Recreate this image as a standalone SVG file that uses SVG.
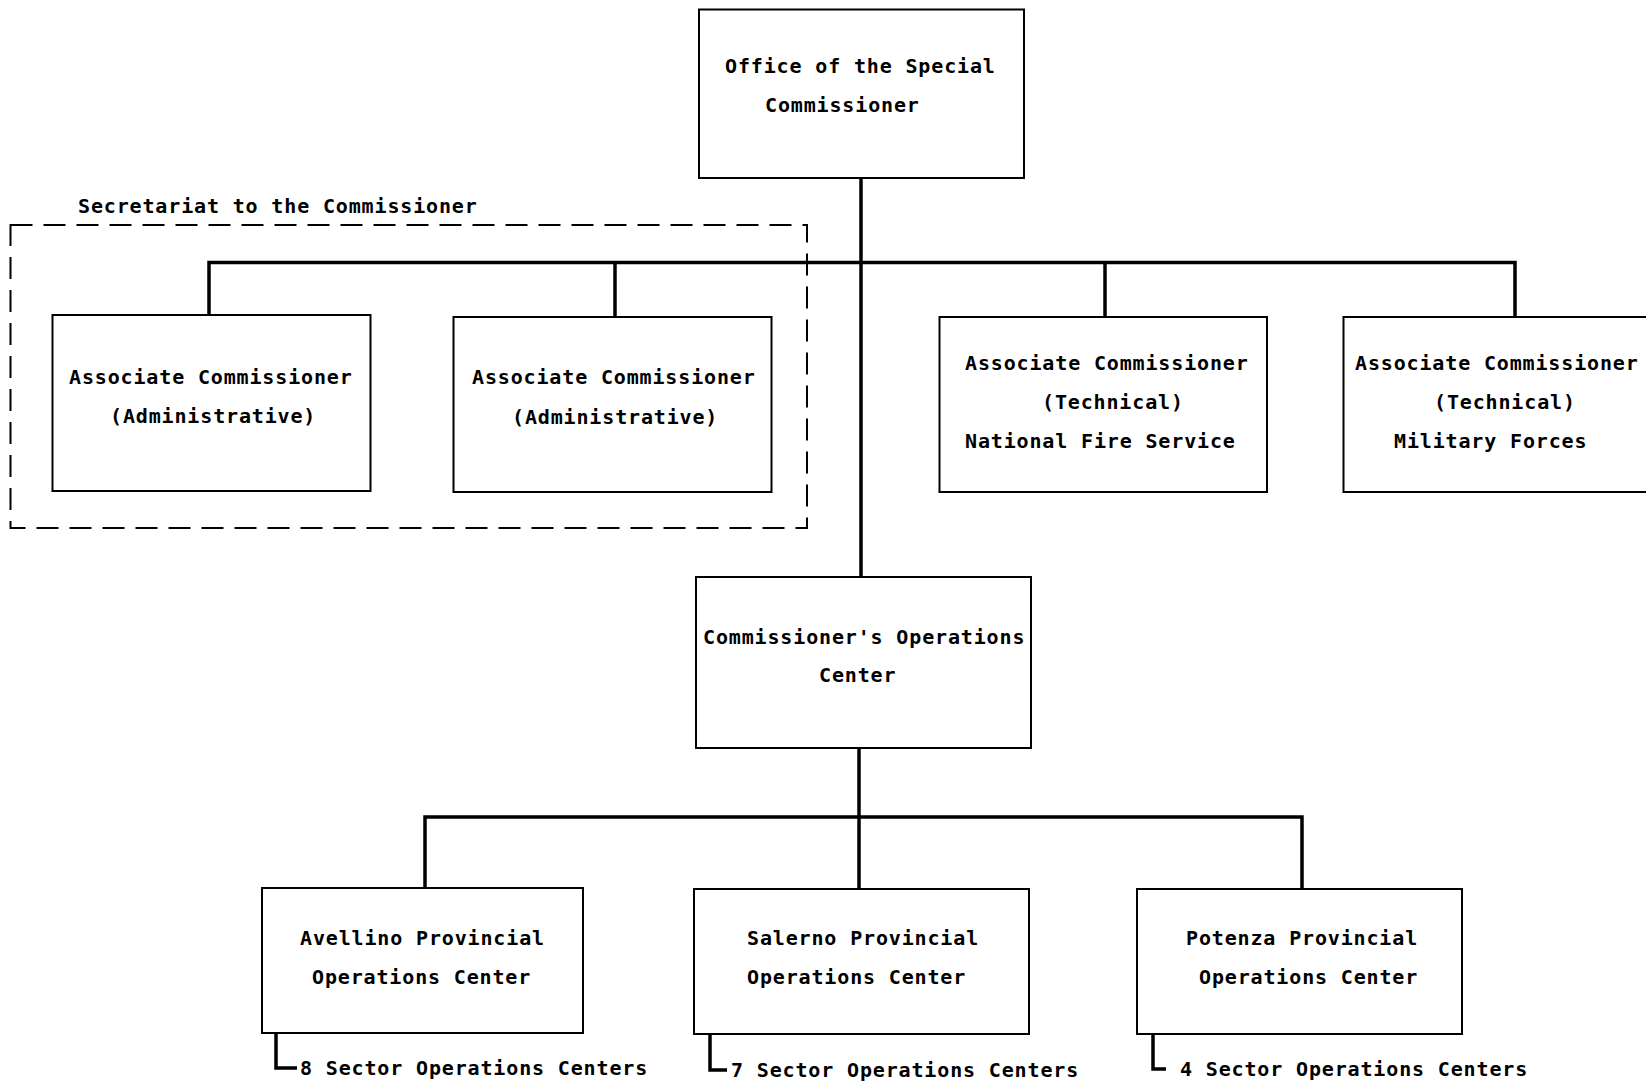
<svg xmlns="http://www.w3.org/2000/svg" width="1646" height="1084" viewBox="0 0 1646 1084">
<style>
.box{fill:#fff;stroke:#000;stroke-width:2}
.t{font-family:"DejaVu Sans Mono","Liberation Mono",monospace;font-weight:bold;font-size:20px;letter-spacing:0.85px;fill:#000}
.c{fill:none;stroke:#000;stroke-width:3.5}
.d{fill:none;stroke:#000;stroke-width:2;stroke-dasharray:22 11}
</style>
<rect width="1646" height="1084" fill="#fff"/>
<g id="connectors">
<path class="c" d="M861 178V577"/>
<path class="c" d="M209 315V262.5H1515V317"/>
<path class="c" d="M615 262.5V317"/>
<path class="c" d="M1105 262.5V317"/>
<path class="c" d="M859 748V889"/>
<path class="c" d="M425 888V817H1302V889"/>
<path class="c" d="M276 1033V1068H297"/>
<path class="c" d="M710 1034V1070H727"/>
<path class="c" d="M1153 1034V1069H1166"/>
</g>
<g id="secretariat">
<rect class="d" x="10.5" y="225" width="796.5" height="303"/>
<text class="t" x="78" y="213">Secretariat to the Commissioner</text>
</g>
<g id="office">
<rect class="box" x="699" y="9.5" width="325" height="168.5"/>
<text class="t" x="725" y="73">Office of the Special</text>
<text class="t" x="765" y="112">Commissioner</text>
</g>
<g id="admin1">
<rect class="box" x="52.5" y="315" width="318" height="176"/>
<text class="t" x="69" y="384">Associate Commissioner</text>
<text class="t" x="110" y="423">(Administrative)</text>
</g>
<g id="admin2">
<rect class="box" x="453.5" y="317" width="318" height="175"/>
<text class="t" x="472" y="384">Associate Commissioner</text>
<text class="t" x="512" y="424">(Administrative)</text>
</g>
<g id="tech1">
<rect class="box" x="939.5" y="317" width="327.5" height="175"/>
<text class="t" x="965" y="370">Associate Commissioner</text>
<text class="t" x="1042" y="409">(Technical)</text>
<text class="t" x="965" y="448">National Fire Service</text>
</g>
<g id="tech2">
<rect class="box" x="1343.5" y="317" width="310" height="175"/>
<text class="t" x="1355" y="370">Associate Commissioner</text>
<text class="t" x="1434" y="409">(Technical)</text>
<text class="t" x="1394" y="448">Military Forces</text>
</g>
<g id="opscenter">
<rect class="box" x="696" y="577" width="335" height="171"/>
<text class="t" x="703" y="644">Commissioner's Operations</text>
<text class="t" x="819" y="682">Center</text>
</g>
<g id="avellino">
<rect class="box" x="262" y="888" width="321" height="145"/>
<text class="t" x="300" y="945">Avellino Provincial</text>
<text class="t" x="312" y="984">Operations Center</text>
<text class="t" x="300" y="1075">8 Sector Operations Centers</text>
</g>
<g id="salerno">
<rect class="box" x="694" y="889" width="335" height="145"/>
<text class="t" x="747" y="945">Salerno Provincial</text>
<text class="t" x="747" y="984">Operations Center</text>
<text class="t" x="731" y="1077">7 Sector Operations Centers</text>
</g>
<g id="potenza">
<rect class="box" x="1137" y="889" width="325" height="145"/>
<text class="t" x="1186" y="945">Potenza Provincial</text>
<text class="t" x="1199" y="984">Operations Center</text>
<text class="t" x="1180" y="1076">4 Sector Operations Centers</text>
</g>
</svg>
